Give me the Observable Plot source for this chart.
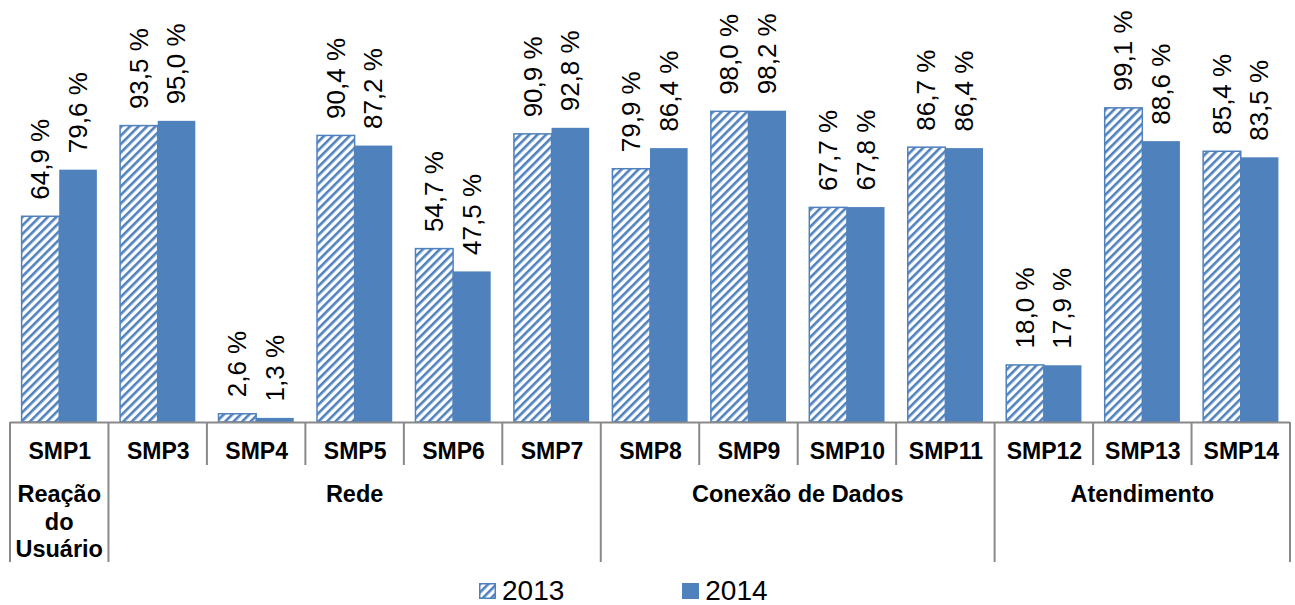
<!DOCTYPE html>
<html>
<head>
<meta charset="utf-8">
<script src="https://cdn.jsdelivr.net/npm/d3@7"></script>
<script src="https://cdn.jsdelivr.net/npm/@observablehq/plot@0.6"></script>
<style>
  body { margin: 0; background: #fff; font-family: "Liberation Sans", Arial, sans-serif; }
  #chart svg { display: block; }
  #legend { height: 33px; font-size: 28px; line-height: 28px; padding-top: 7px; box-sizing: border-box; display: flex; align-items: flex-end; padding-left: 479px; color: #000; }
  #legend .item { display: flex; align-items: center; }
  #legend .item + .item { margin-left: 118px; }
  #legend svg { margin-right: 6px; }
</style>
</head>
<body>
<div id="chart"></div>
<div id="legend"></div>
<script>
// Indicators (SMP) and their results in each year, in percent
const categories = ["SMP1", "SMP3", "SMP4", "SMP5", "SMP6", "SMP7", "SMP8", "SMP9", "SMP10", "SMP11", "SMP12", "SMP13", "SMP14"];
const values2013 = [64.9, 93.5, 2.6, 90.4, 54.7, 90.9, 79.9, 98.0, 67.7, 86.7, 18.0, 99.1, 85.4];
const values2014 = [79.6, 95.0, 1.3, 87.2, 47.5, 92.8, 86.4, 98.2, 67.8, 86.4, 17.9, 88.6, 83.5];
const seriesNames = ["2013", "2014"];

// Indicator groups, listed in order with the number of indicators in each
const groupNames = ["Reação do Usuário", "Rede", "Conexão de Dados", "Atendimento"];
const groupSizes = [1, 5, 4, 3];

const blue = "#4F81BD";
const gridGray = "#898989";
const W = 1295, H = 572;
const ML = 10, MR = 5, MT = 105, MB = 150;

const rows = categories.map((c, i) => ({cat: c, v13: values2013[i], v14: values2014[i]}));
const fmt = v => v.toFixed(1).replace(".", ",") + " %";

// Geometry of the paired bars inside each category band
const step = (W - ML - MR) / categories.length;
const outer = step * 0.118;
const barW = (step - 2 * outer) / 2;

const labelStyle = {rotate: -90, textAnchor: "start", dy: -17, fontSize: 26, fill: "#000"};

const plot = Plot.plot({
  width: W,
  height: H,
  marginLeft: ML,
  marginRight: MR,
  marginTop: MT,
  marginBottom: MB,
  style: {fontFamily: "Liberation Sans, Arial, sans-serif", background: "#fff", overflow: "visible"},
  x: {domain: categories, padding: 0, paddingInner: 0, paddingOuter: 0, round: false, axis: null},
  y: {domain: [0, 100], axis: null},
  marks: [
    Plot.barY(rows, {x: "cat", y: "v13", fill: "url(#hatch2013)", stroke: blue, strokeWidth: 1.5,
      insetLeft: outer, insetRight: outer + barW}),
    Plot.barY(rows, {x: "cat", y: "v14", fill: blue,
      insetLeft: outer + barW, insetRight: outer}),
    Plot.text(rows, {x: "cat", y: "v13", text: d => fmt(d.v13), dx: -barW / 2, ...labelStyle}),
    Plot.text(rows, {x: "cat", y: "v14", text: d => fmt(d.v14), dx: barW / 2, ...labelStyle}),
    Plot.ruleY([0], {stroke: gridGray, strokeWidth: 2}),
    Plot.text(rows, {x: "cat", y: 0, text: "cat", dy: 29, fontSize: 23, fontWeight: "bold", fill: "#000"})
  ]
});

const svg = d3.select(plot);

// Diagonal hatch used by the 2013 series
const defs = svg.insert("defs", ":first-child");
const pat = defs.append("pattern")
  .attr("id", "hatch2013")
  .attr("patternUnits", "userSpaceOnUse")
  .attr("width", 6).attr("height", 6)
  .attr("patternTransform", "rotate(45)");
pat.append("rect").attr("width", 6).attr("height", 6).attr("fill", "#fff");
pat.append("rect").attr("width", 2.6).attr("height", 6).attr("fill", blue);

// Category table under the axis: separators and group names
const x = plot.scale("x");
const y = plot.scale("y");
const y0 = y.apply(0);
const shortEnd = y0 + 43, longEnd = y0 + 140;
const groupStart = new Set();
let k = 0;
groupSizes.forEach(n => { groupStart.add(k); k += n; });

const table = svg.append("g").attr("stroke", gridGray).attr("stroke-width", 2);
categories.forEach((c, i) => {
  const xx = x.apply(c);
  table.append("line").attr("x1", xx).attr("x2", xx).attr("y1", y0).attr("y2", groupStart.has(i) ? longEnd : shortEnd);
});
const xEnd = x.apply(categories[categories.length - 1]) + x.bandwidth;
table.append("line").attr("x1", xEnd).attr("x2", xEnd).attr("y1", y0).attr("y2", longEnd);

const groupText = svg.append("g")
  .attr("font-family", "Liberation Sans, Arial, sans-serif")
  .attr("font-size", 23.5).attr("font-weight", "bold")
  .attr("text-anchor", "middle").attr("fill", "#000");
k = 0;
groupNames.forEach((name, g) => {
  const first = categories[k], last = categories[k + groupSizes[g] - 1];
  const cx = (x.apply(first) + x.apply(last) + x.bandwidth) / 2;
  const lines = groupSizes[g] === 1 ? name.split(" ") : [name];
  const t = groupText.append("text").attr("x", cx).attr("y", y0 + 80);
  lines.forEach((ln, j) => t.append("tspan").attr("x", cx).attr("dy", j === 0 ? 0 : 27.5).text(ln));
  k += groupSizes[g];
});

document.getElementById("chart").appendChild(plot);

// Legend below the chart
const legend = d3.select("#legend");
seriesNames.forEach((name, i) => {
  const item = legend.append("span").attr("class", "item");
  const sw = item.append("svg").attr("width", 17).attr("height", 16);
  sw.append("rect").attr("x", 0.75).attr("y", 0.75).attr("width", 15.5).attr("height", 14.5)
    .attr("fill", i === 0 ? "url(#hatch2013)" : blue)
    .attr("stroke", blue).attr("stroke-width", 1.5);
  item.append("span").text(name);
});
</script>
</body>
</html>
